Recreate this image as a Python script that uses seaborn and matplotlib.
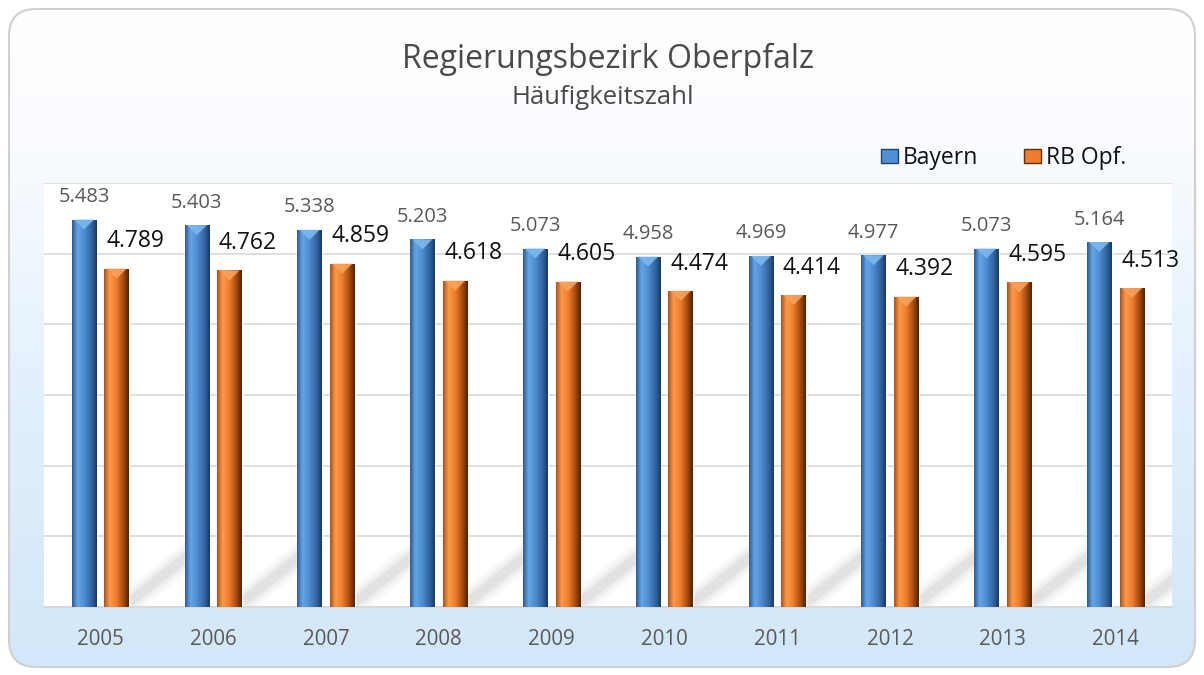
import matplotlib
matplotlib.use('Agg')
import matplotlib.pyplot as plt
import numpy as np
import pandas as pd
import seaborn as sns
from matplotlib.colors import LinearSegmentedColormap
from matplotlib.patches import FancyBboxPatch, Patch, Polygon

# Data (Häufigkeitszahl, shown with German decimal dot)
years = ['2005', '2006', '2007', '2008', '2009', '2010', '2011', '2012', '2013', '2014']
bayern = [5.483, 5.403, 5.338, 5.203, 5.073, 4.958, 4.969, 4.977, 5.073, 5.164]
rb_opf = [4.789, 4.762, 4.859, 4.618, 4.605, 4.474, 4.414, 4.392, 4.595, 4.513]
series_names = ['Bayern', 'RB Opf.']

df = pd.DataFrame({
    'Jahr': years * 2,
    'Wert': bayern + rb_opf,
    'Reihe': [series_names[0]] * len(years) + [series_names[1]] * len(years),
})

sns.set_theme(style='white')
plt.rcParams['font.family'] = ['Open Sans', 'DejaVu Sans']

W, H = 1204, 675
fig = plt.figure(figsize=(W / 100, H / 100), dpi=100)

# background: rounded frame with a white-to-light-blue gradient
bg = fig.add_axes([0, 0, 1, 1], zorder=0)
bg.set_xlim(0, W)
bg.set_ylim(0, H)
bg.axis('off')
frame = FancyBboxPatch((9, 8), W - 18, H - 17, boxstyle='round,pad=0,rounding_size=27',
                       facecolor='none', edgecolor='#d0d0d0', linewidth=1.5, zorder=3)
bg.add_patch(frame)
bg_cmap = LinearSegmentedColormap.from_list('bg', [(0, '#d2e7f9'), (0.45, '#e4f1fc'), (0.8, '#fafcff'), (1, '#ffffff')])
grad = np.linspace(0, 1, 256).reshape(-1, 1)
img = bg.imshow(grad, extent=(9, W - 9, 8, H - 9), origin='lower', cmap=bg_cmap, aspect='auto', zorder=1)
img.set_clip_path(frame)

# main plot area
ax = fig.add_axes([44 / W, 1 - 607 / H, (1172 - 44) / W, (607 - 183) / H], zorder=1)
ax.set_facecolor('white')

colors = {'Bayern': '#4f8fd3', 'RB Opf.': '#ee7d2e'}
sns.barplot(data=df, x='Jahr', y='Wert', hue='Reihe', palette=colors, width=0.58, gap=0.25,
            saturation=1, legend=False, ax=ax, zorder=3)

ax.set_ylim(0, 6)
ax.set_yticks([1, 2, 3, 4, 5, 6])
ax.set_yticklabels([])
ax.yaxis.grid(True, color='#d9d9d9', linewidth=1.2)
ax.set_axisbelow(True)
for side in ['left', 'right', 'top']:
    ax.spines[side].set_visible(False)
ax.spines['bottom'].set_color('#d9d9d9')
ax.spines['bottom'].set_linewidth(1.5)
ax.set_xlabel('')
ax.set_ylabel('')
ax.tick_params(axis='x', length=0, pad=16, labelsize=14.8, labelcolor='#595959')
ax.tick_params(axis='y', length=0)

# cylinder-like shading on the bars
grads = {
    'Bayern': LinearSegmentedColormap.from_list('b', [(0, '#2d5c94'), (0.22, '#64a6e6'), (0.5, '#4d8cd0'),
                                                      (0.82, '#305f99'), (1, '#1c3a60')]),
    'RB Opf.': LinearSegmentedColormap.from_list('o', [(0, '#b0521a'), (0.22, '#fb9b4a'), (0.5, '#ee7c2c'),
                                                       (0.8, '#a0480f'), (1, '#4f2406')]),
}
tops = {'Bayern': '#7db8ef', 'RB Opf.': '#f6a25c'}
hgrad = np.linspace(0, 1, 64).reshape(1, -1)
for name, cont in zip(series_names, ax.containers):
    for bar in cont:
        x0, w, h = bar.get_x(), bar.get_width(), bar.get_height()
        im = ax.imshow(hgrad, extent=(x0, x0 + w, 0, h), cmap=grads[name], aspect='auto', zorder=4)
        im.set_clip_path(bar)
        ax.add_patch(Polygon([(x0 + 0.02, h), (x0 + w - 0.02, h), (x0 + w / 2, h - 0.14)],
                             closed=True, facecolor=tops[name], edgecolor='none', alpha=0.9, zorder=5))
        if name == 'RB Opf.':
            # soft diagonal floor shadow behind each group
            for lw, a in [(18, 0.04), (12, 0.06), (7, 0.08)]:
                ax.plot([x0 + w + 0.03, x0 + w + 0.62], [0.1, 0.85], color='#555555', lw=lw, alpha=a,
                        solid_capstyle='round', zorder=2)

# value labels
for name, cont in zip(series_names, ax.containers):
    for bar in cont:
        x0, w, h = bar.get_x(), bar.get_width(), bar.get_height()
        label = f'{h:.3f}'
        if name == 'Bayern':
            ax.annotate(label, (x0 + w / 2, h), xytext=(0, 9), textcoords='offset points',
                        ha='center', va='bottom', fontsize=14.5, color='#595959', zorder=6)
        else:
            ax.annotate(label, (x0 + 0.015, h), xytext=(0, 11), textcoords='offset points',
                        ha='left', va='bottom', fontsize=16.5, color='#111111', zorder=6)

ax.set_xlim(-0.5, len(years) - 0.5)
ax.set_ylim(0, 6)

# titles
fig.text(608 / W, 1 - 59 / H, 'Regierungsbezirk Oberpfalz', ha='center', va='center', fontsize=23, color='#4a4a4a')
fig.text(603 / W, 1 - 98 / H, 'Häufigkeitszahl', ha='center', va='center', fontsize=18.5, color='#4a4a4a')

# legend
handles = [Patch(facecolor=colors[n], edgecolor=grads[n](0.95), label=n) for n in series_names]
fig.legend(handles=handles, loc='center right', bbox_to_anchor=(1126 / W, 1 - 158 / H), ncol=2,
           frameon=False, fontsize=16.5, handlelength=0.74, handleheight=0.55, handletextpad=0.22,
           columnspacing=2.0, borderaxespad=0, borderpad=0, labelcolor='#111111')

fig.savefig('out.png', dpi=100)
